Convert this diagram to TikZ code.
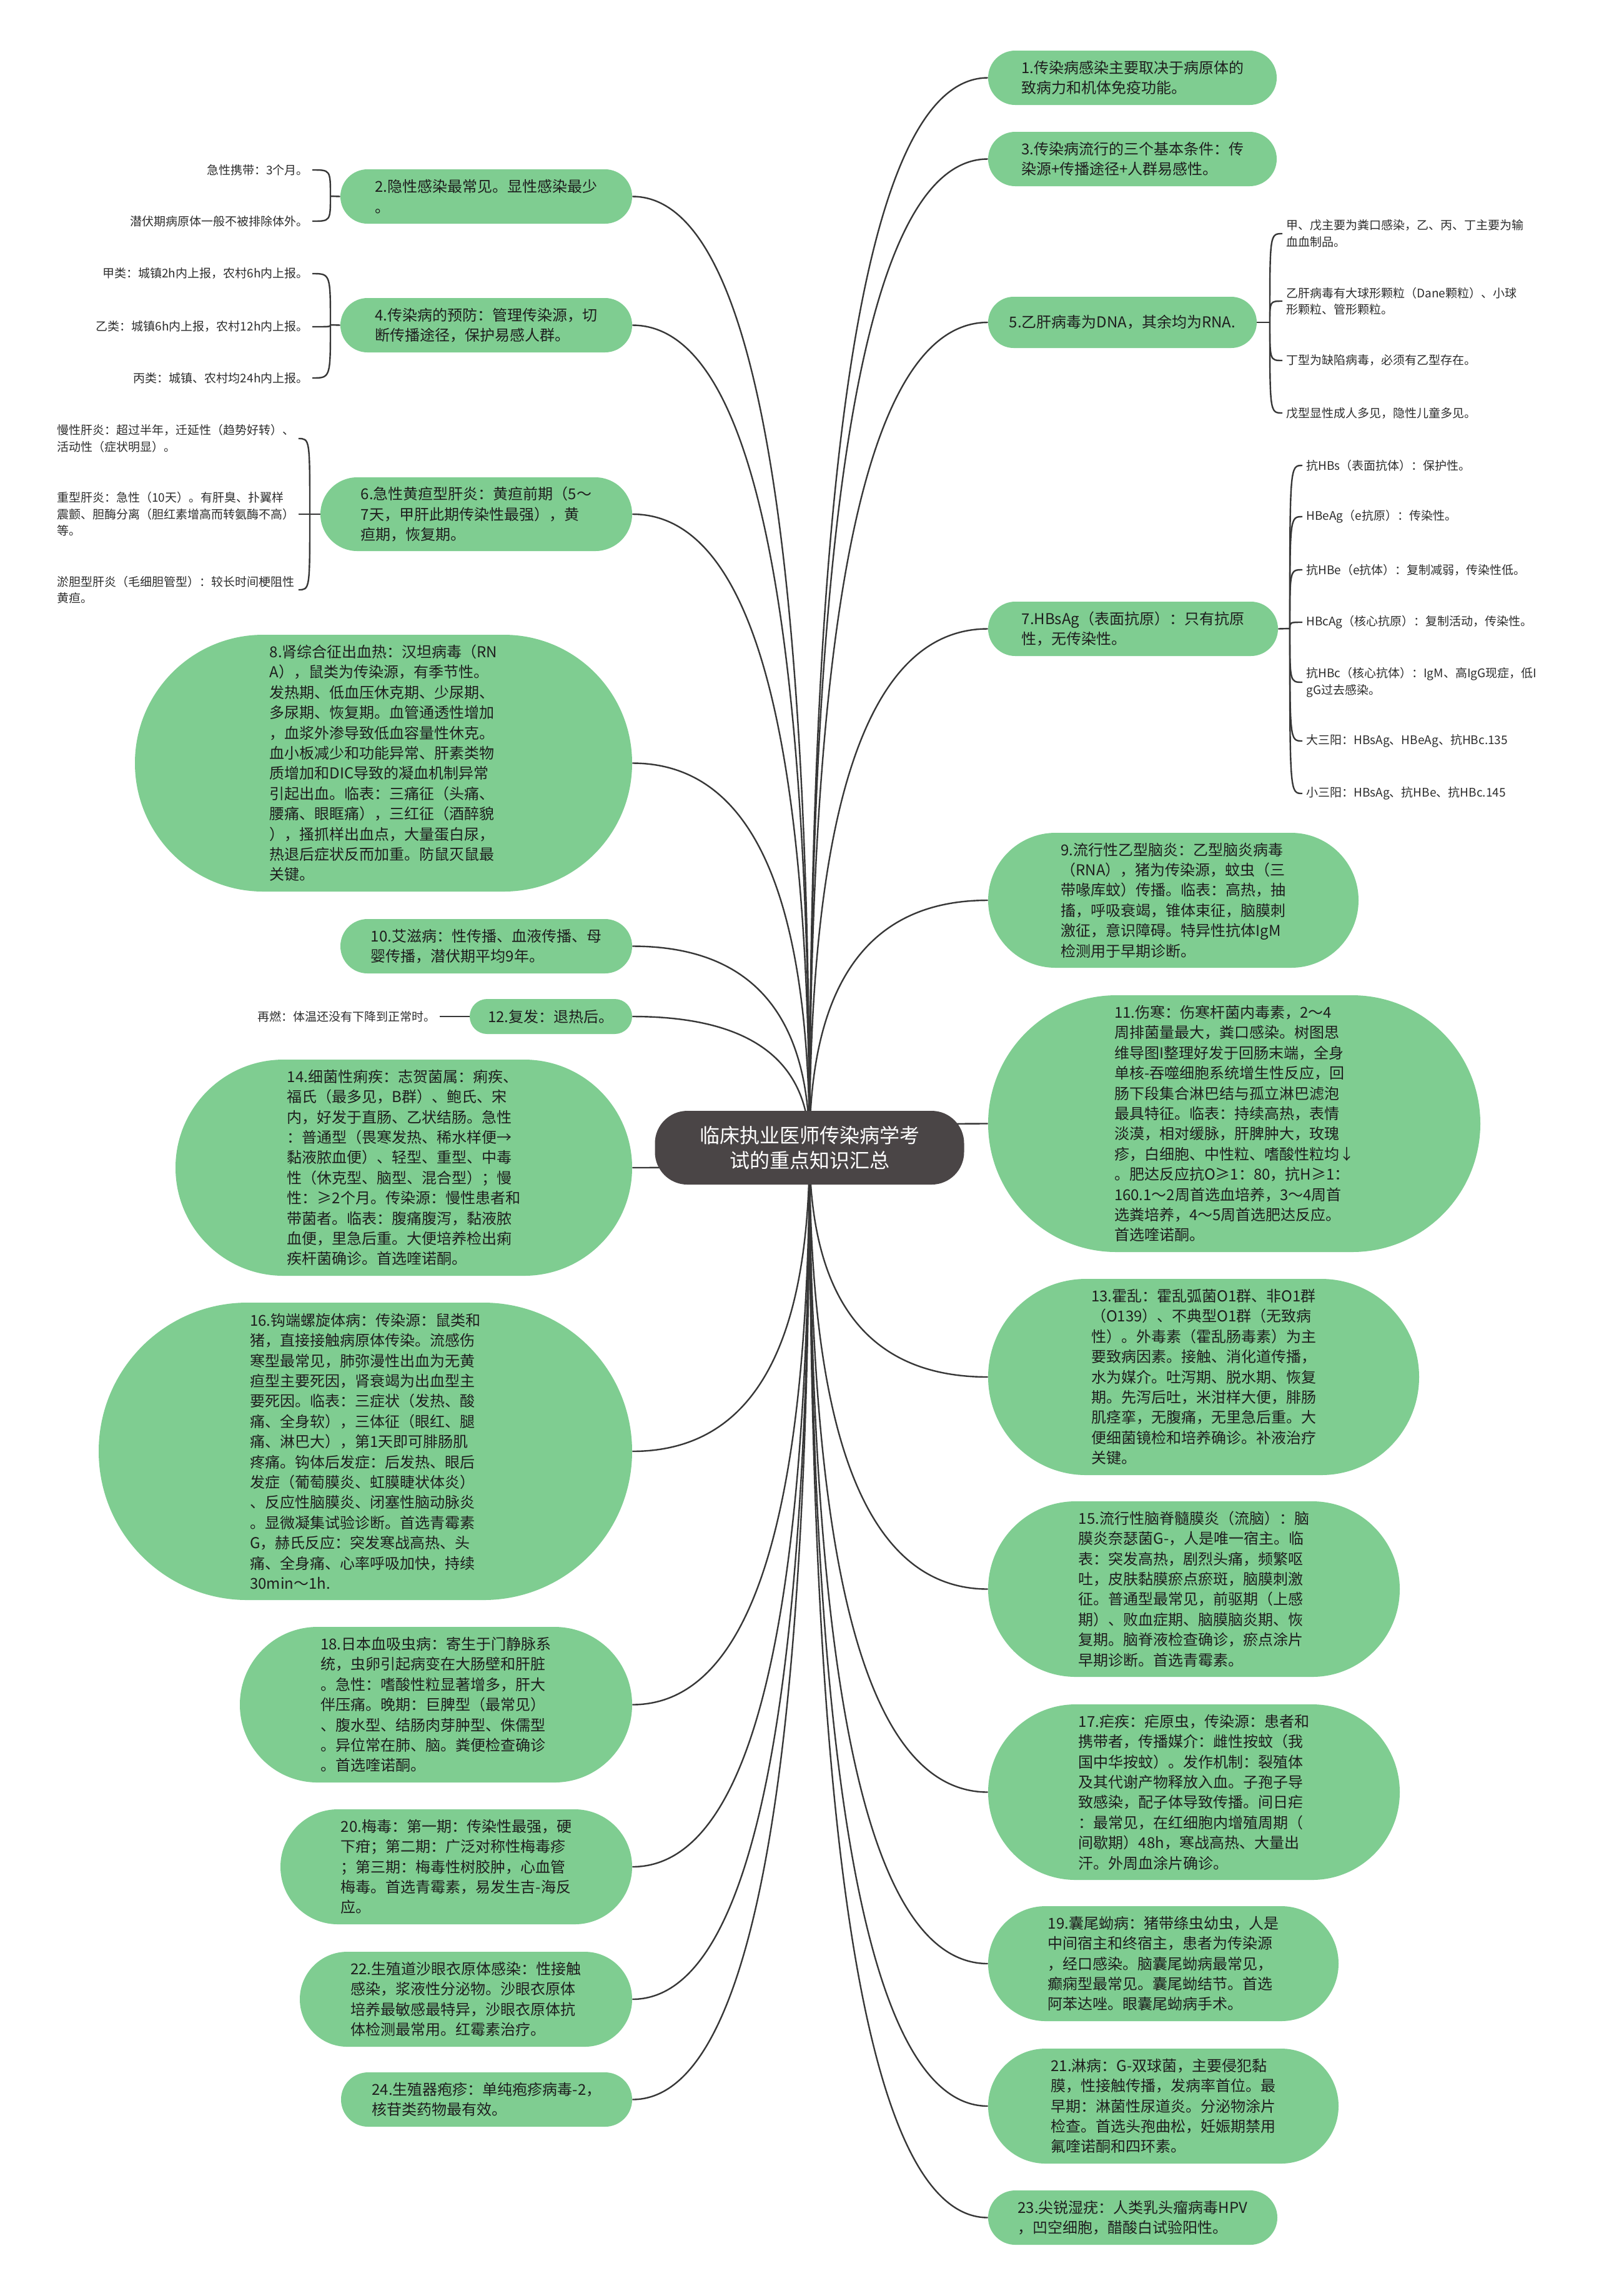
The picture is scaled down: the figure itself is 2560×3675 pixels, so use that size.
\documentclass[tikz,border=0pt]{standalone}
\usepackage{fontspec}
\setmainfont{Noto Sans CJK SC}
\usetikzlibrary{calc}
\pgfdeclarelayer{bg}
\pgfsetlayers{bg,main}
\definecolor{bubgreen}{RGB}{127,205,145}
\definecolor{rootgray}{RGB}{74,69,70}
\definecolor{linegray}{RGB}{55,55,55}
\definecolor{txtdark}{RGB}{30,30,30}
\definecolor{txtleaf}{RGB}{45,45,45}
\tikzset{
  bubble/.style={fill=bubgreen, inner sep=0pt, align=left, text=txtdark,
    font=\fontsize{12pt}{16.2pt}\selectfont},
  leaf/.style={inner xsep=3pt, inner ysep=1pt, align=left, text=txtleaf,
    font=\fontsize{9.5pt}{13.3pt}\selectfont},
  conn/.style={draw=linegray, line width=1.2pt},
  rootbox/.style={fill=rootgray, text=white, align=center,
    font=\fontsize{16pt}{20pt}\selectfont, rounded corners=26pt,
    minimum width=247.5pt, minimum height=59pt, inner sep=0pt}
}
\newcommand\mmBub[6]{%
  \pgfmathsetmacro\mmW{(#3-#2)*0.5}%
  \pgfmathsetmacro\mmH{(#5-#4)*0.5}%
  \pgfmathsetmacro\mmR{min(\mmW,\mmH)/2-0.05}%
  \node[bubble, minimum width=\mmW pt, minimum height=\mmH pt, rounded corners=\mmR pt] (#1) at ({(#2+#3)/2},{(#4+#5)/2}) {#6};}
\begin{document}
\begin{tikzpicture}[x=0.5pt,y=-0.5pt]
\begin{pgfonlayer}{bg}
\fill[white] (0,0) rectangle (2560,3675);
\end{pgfonlayer}
\useasboundingbox (0,0) rectangle (2560,3675);

% root
\node[rootbox] (root) at (1296,1837) {临床执业医师传染病学考\\试的重点知识汇总};

% right side
\mmBub{n1}{1582}{2044}{81}{168}{1.传染病感染主要取决于病原体的\\致病力和机体免疫功能。}
\mmBub{n3}{1582}{2044}{211}{298}{3.传染病流行的三个基本条件：传\\染源+传播途径+人群易感性。}
\mmBub{n5}{1582}{2012}{475}{557}{5.乙肝病毒为DNA，其余均为RNA.}
\mmBub{n7}{1582}{2046}{963}{1050}{7.HBsAg（表面抗原）：只有抗原\\性，无传染性。}
\mmBub{n9}{1582}{2175}{1333}{1549}{9.流行性乙型脑炎：乙型脑炎病毒\\（RNA），猪为传染源，蚊虫（三\\带喙库蚊）传播。临表：高热，抽\\搐，呼吸衰竭，锥体束征，脑膜刺\\激征，意识障碍。特异性抗体IgM\\检测用于早期诊断。}
\mmBub{n11}{1582}{2370}{1593}{2004}{11.伤寒：伤寒杆菌内毒素，2～4\\周排菌量最大，粪口感染。树图思\\维导图I整理好发于回肠末端，全身\\单核-吞噬细胞系统增生性反应，回\\肠下段集合淋巴结与孤立淋巴滤泡\\最具特征。临表：持续高热，表情\\淡漠，相对缓脉，肝脾肿大，玫瑰\\疹，白细胞、中性粒、嗜酸性粒均↓\\。肥达反应抗O≥1：80，抗H≥1：\\160.1～2周首选血培养，3～4周首\\选粪培养，4～5周首选肥达反应。\\首选喹诺酮。}
\mmBub{n13}{1582}{2272}{2047}{2361}{13.霍乱：霍乱弧菌O1群、非O1群\\（O139）、不典型O1群（无致病\\性）。外毒素（霍乱肠毒素）为主\\要致病因素。接触、消化道传播，\\水为媒介。吐泻期、脱水期、恢复\\期。先泻后吐，米泔样大便，腓肠\\肌痉挛，无腹痛，无里急后重。大\\便细菌镜检和培养确诊。补液治疗\\关键。}
\mmBub{n15}{1582}{2241}{2403}{2684}{15.流行性脑脊髓膜炎（流脑）：脑\\膜炎奈瑟菌G-，人是唯一宿主。临\\表：突发高热，剧烈头痛，频繁呕\\吐，皮肤黏膜瘀点瘀斑，脑膜刺激\\征。普通型最常见，前驱期（上感\\期）、败血症期、脑膜脑炎期、恢\\复期。脑脊液检查确诊，瘀点涂片\\早期诊断。首选青霉素。}
\mmBub{n17}{1582}{2241}{2728}{3009}{17.疟疾：疟原虫，传染源：患者和\\携带者，传播媒介：雌性按蚊（我\\国中华按蚊）。发作机制：裂殖体\\及其代谢产物释放入血。子孢子导\\致感染，配子体导致传播。间日疟\\：最常见，在红细胞内增殖周期（\\间歇期）48h，寒战高热、大量出\\汗。外周血涂片确诊。}
\mmBub{n19}{1582}{2143}{3051}{3235}{19.囊尾蚴病：猪带绦虫幼虫，人是\\中间宿主和终宿主，患者为传染源\\，经口感染。脑囊尾蚴病最常见，\\癫痫型最常见。囊尾蚴结节。首选\\阿苯达唑。眼囊尾蚴病手术。}
\mmBub{n21}{1582}{2143}{3279}{3463}{21.淋病：G-双球菌，主要侵犯黏\\膜，性接触传播，发病率首位。最\\早期：淋菌性尿道炎。分泌物涂片\\检查。首选头孢曲松，妊娠期禁用\\氟喹诺酮和四环素。}
\mmBub{n23}{1582}{2045}{3506}{3593}{23.尖锐湿疣：人类乳头瘤病毒HPV\\，凹空细胞，醋酸白试验阳性。}

% left side
\mmBub{n2}{545}{1012}{271}{358}{2.隐性感染最常见。显性感染最少\\。}
\mmBub{n4}{545}{1012}{477}{564}{4.传染病的预防：管理传染源，切\\断传播途径，保护易感人群。}
\mmBub{n6}{513}{1012}{764}{882}{6.急性黄疸型肝炎：黄疸前期（5～\\7天，甲肝此期传染性最强），黄\\疸期，恢复期。}
\mmBub{n8}{216}{1012}{1016}{1427}{8.肾综合征出血热：汉坦病毒（RN\\A），鼠类为传染源，有季节性。\\发热期、低血压休克期、少尿期、\\多尿期、恢复期。血管通透性增加\\，血浆外渗导致低血容量性休克。\\血小板减少和功能异常、肝素类物\\质增加和DIC导致的凝血机制异常\\引起出血。临表：三痛征（头痛、\\腰痛、眼眶痛），三红征（酒醉貌\\），搔抓样出血点，大量蛋白尿，\\热退后症状反而加重。防鼠灭鼠最\\关键。}
\mmBub{n10}{545}{1012}{1471}{1558}{10.艾滋病：性传播、血液传播、母\\婴传播，潜伏期平均9年。}
\mmBub{n12}{752}{1012}{1599}{1655}{12.复发：退热后。}
\mmBub{n14}{281}{1012}{1696}{2042}{14.细菌性痢疾：志贺菌属：痢疾、\\福氏（最多见，B群）、鲍氏、宋\\内，好发于直肠、乙状结肠。急性\\：普通型（畏寒发热、稀水样便→\\黏液脓血便）、轻型、重型、中毒\\性（休克型、脑型、混合型）；慢\\性：≥2个月。传染源：慢性患者和\\带菌者。临表：腹痛腹泻，黏液脓\\血便，里急后重。大便培养检出痢\\疾杆菌确诊。首选喹诺酮。}
\mmBub{n16}{158}{1012}{2085}{2561}{16.钩端螺旋体病：传染源：鼠类和\\猪，直接接触病原体传染。流感伤\\寒型最常见，肺弥漫性出血为无黄\\疸型主要死因，肾衰竭为出血型主\\要死因。临表：三症状（发热、酸\\痛、全身软），三体征（眼红、腿\\痛、淋巴大），第1天即可腓肠肌\\疼痛。钩体后发症：后发热、眼后\\发症（葡萄膜炎、虹膜睫状体炎）\\、反应性脑膜炎、闭塞性脑动脉炎\\。显微凝集试验诊断。首选青霉素\\G，赫氏反应：突发寒战高热、头\\痛、全身痛、心率呼吸加快，持续\\30min～1h.}
\mmBub{n18}{384}{1012}{2604}{2853}{18.日本血吸虫病：寄生于门静脉系\\统，虫卵引起病变在大肠壁和肝脏\\。急性：嗜酸性粒显著增多，肝大\\伴压痛。晚期：巨脾型（最常见）\\、腹水型、结肠肉芽肿型、侏儒型\\。异位常在肺、脑。粪便检查确诊\\。首选喹诺酮。}
\mmBub{n20}{449}{1012}{2896}{3080}{20.梅毒：第一期：传染性最强，硬\\下疳；第二期：广泛对称性梅毒疹\\；第三期：梅毒性树胶肿，心血管\\梅毒。首选青霉素，易发生吉-海反\\应。}
\mmBub{n22}{480}{1012}{3124}{3276}{22.生殖道沙眼衣原体感染：性接触\\感染，浆液性分泌物。沙眼衣原体\\培养最敏感最特异，沙眼衣原体抗\\体检测最常用。红霉素治疗。}
\mmBub{n24}{546}{1012}{3317}{3404}{24.生殖器疱疹：单纯疱疹病毒-2，\\核苷类药物最有效。}

% leaves of 2
\node[leaf, anchor=east] (l2a) at (500,272) {急性携带：3个月。};
\node[leaf, anchor=east] (l2b) at (500,354) {潜伏期病原体一般不被排除体外。};
% leaves of 4
\node[leaf, anchor=east] (l4a) at (500,438) {甲类：城镇2h内上报，农村6h内上报。};
\node[leaf, anchor=east] (l4b) at (500,523) {乙类：城镇6h内上报，农村12h内上报。};
\node[leaf, anchor=east] (l4c) at (500,605) {丙类：城镇、农村均24h内上报。};
% leaves of 6
\node[leaf, anchor=west] (l6a) at (85,702) {慢性肝炎：超过半年，迁延性（趋势好转）、\\活动性（症状明显）。};
\node[leaf, anchor=west] (l6b) at (85,823) {重型肝炎：急性（10天）。有肝臭、扑翼样\\震颤、胆酶分离（胆红素增高而转氨酶不高）\\等。};
\node[leaf, anchor=west] (l6c) at (85,944) {淤胆型肝炎（毛细胆管型）：较长时间梗阻性\\黄疸。};
% leaf of 12
\node[leaf, anchor=east] (l12) at (704,1627) {再燃：体温还没有下降到正常时。};
% leaves of 5
\node[leaf, anchor=west] (l5a) at (2053,374) {甲、戊主要为粪口感染，乙、丙、丁主要为输\\血血制品。};
\node[leaf, anchor=west] (l5b) at (2053,482) {乙肝病毒有大球形颗粒（Dane颗粒）、小球\\形颗粒、管形颗粒。};
\node[leaf, anchor=west] (l5c) at (2053,577) {丁型为缺陷病毒，必须有乙型存在。};
\node[leaf, anchor=west] (l5d) at (2053,661) {戊型显性成人多见，隐性儿童多见。};
% leaves of 7
\node[leaf, anchor=west] (l7a) at (2085,745) {抗HBs（表面抗体）：保护性。};
\node[leaf, anchor=west] (l7b) at (2085,827) {HBeAg（e抗原）：传染性。};
\node[leaf, anchor=west] (l7c) at (2085,912) {抗HBe（e抗体）：复制减弱，传染性低。};
\node[leaf, anchor=west] (l7d) at (2085,996) {HBcAg（核心抗原）：复制活动，传染性。};
\node[leaf, anchor=west] (l7e) at (2085,1092) {抗HBc（核心抗体）：IgM、高IgG现症，低I\\gG过去感染。};
\node[leaf, anchor=west] (l7f) at (2085,1186) {大三阳：HBsAg、HBeAg、抗HBc.135};
\node[leaf, anchor=west] (l7g) at (2085,1270) {小三阳：HBsAg、抗HBe、抗HBc.145};

\coordinate (j2) at (529,314);
\coordinate (j4) at (529,520);
\coordinate (j6) at (496,823);
\coordinate (j5) at (2033,516);
\coordinate (j7) at (2065,1006);

\begin{pgfonlayer}{bg}
\foreach \n in {n1,n3,n5,n7,n9,n11,n13,n15,n17,n19,n21,n23}{
  \draw[conn] (root.center) .. controls ($(root.center)!0.667!(root.center |- \n.west)$) and ($(\n.west)!0.667!(root.center |- \n.west)$) .. (\n.west);
}
\foreach \n in {n2,n4,n6,n8,n10,n12,n14,n16,n18,n20,n22,n24}{
  \draw[conn] (root.center) .. controls ($(root.center)!0.667!(root.center |- \n.east)$) and ($(\n.east)!0.667!(root.center |- \n.east)$) .. (\n.east);
}
\draw[conn] (n2.west) -- (j2);
\foreach \l in {l2a,l2b}{\draw[conn] (j2) .. controls (j2 |- \l.east) .. (\l.east);}
\draw[conn] (n4.west) -- (j4);
\foreach \l in {l4a,l4b,l4c}{\draw[conn] (j4) .. controls (j4 |- \l.east) .. (\l.east);}
\draw[conn] (n6.west) -- (j6);
\foreach \l in {l6a,l6b,l6c}{\draw[conn] (j6) .. controls (j6 |- \l.east) .. (\l.east);}
\draw[conn] (n5.east) -- (j5);
\foreach \l in {l5a,l5b,l5c,l5d}{\draw[conn] (j5) .. controls (j5 |- \l.west) .. (\l.west);}
\draw[conn] (n7.east) -- (j7);
\foreach \l in {l7a,l7b,l7c,l7d,l7e,l7f,l7g}{\draw[conn] (j7) .. controls (j7 |- \l.west) .. (\l.west);}
\draw[conn] (n12.west) -- (l12.east);
\end{pgfonlayer}
\end{tikzpicture}
\end{document}
